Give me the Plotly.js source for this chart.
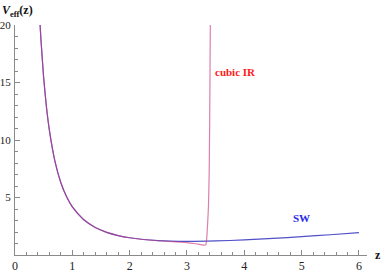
<!DOCTYPE html>
<html><head><meta charset="utf-8">
<script src="https://cdn.plot.ly/plotly-3.0.1.min.js"></script>
<style>html,body{margin:0;padding:0;background:#fff}#c{width:382px;height:273px}</style>
</head><body><div id="c"></div>
<script>
const swZ = [0.43,0.45,0.5,0.55,0.6,0.7,0.8,0.9,1.0,1.2,1.4,1.6,1.8,2.0,2.5,3.0,3.5,4.0,4.5,5.0,5.5,6.0];
const swV = [20.69,18.93,15.41,12.81,10.83,8.07,6.28,5.06,4.19,3.06,2.39,1.97,1.69,1.50,1.25,1.18,1.22,1.31,1.44,1.60,1.76,1.94];
const irZ = [0.43,0.45,0.5,0.55,0.6,0.7,0.8,0.9,1.0,1.2,1.4,1.6,1.8,2.0,2.5,2.8,3.0,3.1,3.2,3.27,3.31,3.33,3.345,3.355,3.365,3.375,3.387,3.395,3.402,3.408];
const irV = [20.69,18.93,15.41,12.81,10.83,8.07,6.28,5.06,4.19,3.06,2.39,1.97,1.69,1.50,1.24,1.15,1.07,1.01,0.95,0.88,0.85,0.9,1.5,2.3,3.2,4.3,7,11,16,21];
const xTicks = [0,1,2,3,4,5,6];
const yTicks = [5,10,15,20];

const serif = '"Liberation Serif", "Times New Roman", serif';
const axisCol = '#8a8a8a';
const data = [
  {x: swZ, y: swV, mode: 'lines', line: {color: 'rgb(80,80,200)', width: 1.2, shape: 'spline', smoothing: 0.6}, hoverinfo: 'skip'},
  {x: irZ, y: irV, mode: 'lines', line: {color: 'rgb(200,60,125)', width: 1.2, shape: 'spline', smoothing: 0.3}, opacity: 0.65, hoverinfo: 'skip'}
];
const layout = {
  width: 382, height: 273,
  margin: {l: 15, r: 15, t: 25, b: 18},
  paper_bgcolor: '#fff', plot_bgcolor: '#fff',
  showlegend: false,
  font: {family: serif, size: 11, color: '#222'},
  xaxis: {range: [0, 6.14], showgrid: false, zeroline: false, showline: true, linecolor: axisCol, linewidth: 1,
    tickmode: 'array', tickvals: xTicks, ticks: 'inside', ticklen: 5, tickcolor: axisCol,
    minor: {dtick: 0.2, tick0: 0, ticklen: 3, tickcolor: axisCol, ticks: 'inside', showgrid: false},
    tickfont: {family: serif, size: 12, color: '#222'}},
  yaxis: {range: [0, 20], showgrid: false, zeroline: false, showline: true, linecolor: axisCol, linewidth: 1,
    tickmode: 'array', tickvals: yTicks, ticks: 'inside', ticklen: 5, tickcolor: axisCol,
    minor: {dtick: 1, tick0: 0, ticklen: 3, tickcolor: axisCol, ticks: 'inside', showgrid: false},
    tickfont: {family: serif, size: 11, color: '#222'}, ticklabelstandoff: 1},
  annotations: [
    {xref: 'paper', yref: 'paper', x: -0.043, y: 1.06, xanchor: 'left', yanchor: 'middle', showarrow: false,
     text: '<b><i>V</i><sub>eff</sub>(z)</b>', font: {family: serif, size: 12, color: '#111'}},
    {xref: 'paper', yref: 'paper', x: 1.018, y: 0.0, xanchor: 'left', yanchor: 'middle', showarrow: false,
     text: '<b>z</b>', font: {family: serif, size: 12, color: '#111'}},
    {x: 3.45, y: 15.9, xanchor: 'left', yanchor: 'middle', showarrow: false,
     text: '<b>cubic IR</b>', font: {family: serif, size: 11, color: '#ff1a1a'}},
    {x: 5.0, y: 3.2, xanchor: 'center', yanchor: 'middle', showarrow: false,
     text: '<b>SW</b>', font: {family: serif, size: 11, color: '#2a2ae8'}}
  ]
};
Plotly.newPlot('c', data, layout, {staticPlot: true, displayModeBar: false});
</script></body></html>
